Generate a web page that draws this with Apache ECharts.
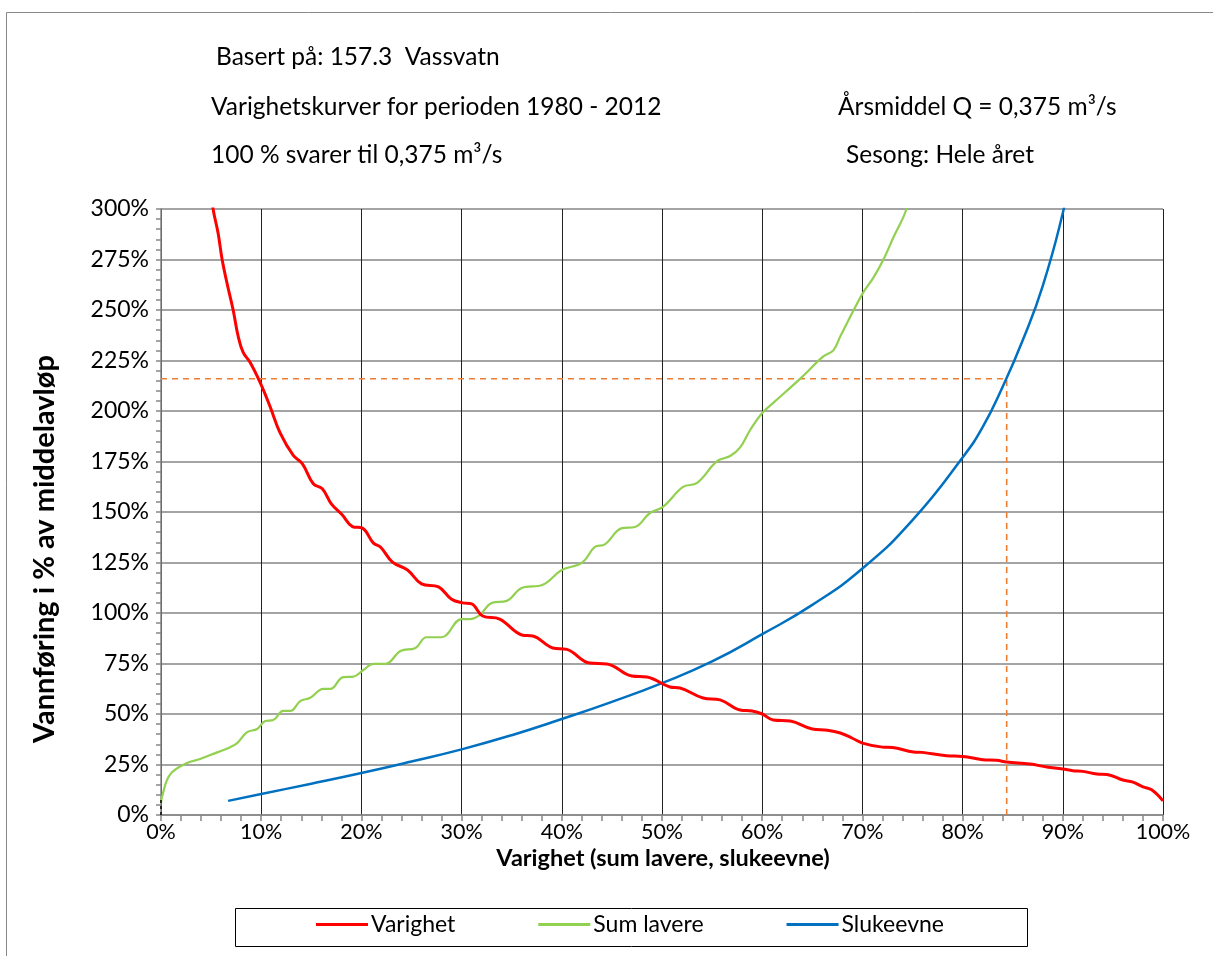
<!DOCTYPE html>
<html><head><meta charset="utf-8">
<script src="https://cdn.jsdelivr.net/npm/echarts@6/dist/echarts.min.js"></script>
<style>html,body{margin:0;padding:0;background:#fff}#c{width:1213px;height:956px}</style>
</head><body><div id="c"></div>
<script>
const FONT = 'Lato';
const xTicks = [0,10,20,30,40,50,60,70,80,90,100];
const yTicks = [0,25,50,75,100,125,150,175,200,225,250,275,300];

const varighet = [[5.0,310],[5.2,300],[5.7,288],[6.1,275],[6.6,263],[7.2,250],[7.7,237],[8.2,229],[8.9,224],[9.9,214],[10.9,202],[11.9,189],[13.2,178],[14.1,174],[15.2,164],[16.1,161.5],[17.0,154],[18.1,148.5],[19.1,142.8],[20.1,142],[21.2,134.6],[21.9,132.7],[23.1,125.2],[24.6,121.3],[26.0,114.4],[27.7,112.9],[29.0,106.8],[30.1,105],[31.0,104.5],[32.1,98.5],[33.8,97],[36.1,89],[37.1,88.6],[39.1,82.7],[40.5,82],[42.8,75.2],[44.5,74.8],[47.0,68.8],[48.5,68.3],[50.8,63.4],[51.8,62.9],[54.1,57.9],[55.8,57],[57.8,52],[59.0,51.5],[60.0,50],[61.1,47],[62.8,46.5],[65.0,42.6],[66.5,42],[67.8,40.6],[69.0,38],[70.0,35.6],[72.0,33.6],[73.0,33.4],[75.1,31.2],[76.0,31],[78.4,29.3],[80.0,29],[82.0,27.4],[83.4,27.1],[84.4,26.2],[86.7,25.2],[88.4,23.8],[90.0,22.8],[91.0,21.9],[92.0,21.6],[93.4,20.3],[94.4,20.1],[96.0,17.3],[97.0,16.3],[98.0,13.9],[98.9,12.4],[100,7]];

const sumLavere = [[0,6],[0.1,9],[0.9,20],[2.6,25.7],[3.9,27.7],[5.6,31],[6.9,33.6],[7.6,35.6],[8.6,41],[9.6,42.6],[10.4,46.5],[11.2,47],[12.2,51.5],[12.9,51.5],[13.9,56.4],[14.9,58],[16.2,62.4],[16.9,62.4],[18.2,68.3],[19.2,68.5],[20.2,71.8],[21.2,74.8],[22.4,74.8],[23.9,81.2],[25.4,82.7],[26.5,88],[28.0,88],[30.0,97],[30.8,97],[31.8,99],[33.0,105],[34.5,106],[36.0,112.4],[38.1,114],[40.0,121.3],[42.0,124.8],[43.3,132.7],[44.3,134],[46.0,142],[47.3,142.6],[48.8,149.5],[50.1,152.5],[52.1,162.4],[53.5,164.4],[55.5,175.2],[56.8,177.7],[57.8,182],[58.8,190.6],[60.0,199],[61.1,204],[63.8,216],[66.1,227],[67.1,230],[67.8,237],[70.0,258],[71.1,266],[72.1,275],[73.1,286],[74.4,300],[74.7,310]];

const slukeevne = [[6.7,7],[10,10.4],[15,15.5],[20,20.8],[25,26.5],[30,32.5],[35,39.5],[40,47.5],[45,56],[50,65.3],[55,76],[60,89.5],[65,104],[70,122],[75,146],[80,177],[82,192],[84,212],[86,235],[88,262],[90,298],[90.4,310]];

const refX = [0, 84.4, 84.4];
const refY = [216, 216, 0];
const startMarkX = [0, 0];
const startMarkY = [0, 8];

const chart = echarts.init(document.getElementById('c'), null, {renderer:'canvas'});
const TS = 24.5;
const txt = (x, cy, s) => ({type:'text', x:x, y:cy, style:{text:s, font:TS + 'px ' + FONT, fill:'#000', verticalAlign:'middle'}});

chart.setOption({
  animation:false,
  backgroundColor:'#fff',
  grid:{left:161, right:50, top:209, bottom:141, containLabel:false},
  xAxis:{type:'value', min:0, max:100, interval:10,
    axisLine:{show:true, lineStyle:{color:'#868686', width:1.5}},
    axisTick:{show:true, length:6, lineStyle:{color:'#868686', width:1.5}},
    minorTick:{show:true, splitNumber:5, length:6, lineStyle:{color:'#868686', width:1.5}},
    splitLine:{show:true, lineStyle:{color:'#222', width:1}},
    axisLabel:{formatter:v=>v+'%', fontFamily:FONT, fontSize:21.5, color:'#000', margin:6}},
  yAxis:{type:'value', min:0, max:300, interval:25,
    axisLine:{show:true, lineStyle:{color:'#868686', width:1.5}},
    axisTick:{show:true, length:5, lineStyle:{color:'#868686', width:1.5}},
    minorTick:{show:true, splitNumber:5, length:5, lineStyle:{color:'#868686', width:1.5}},
    splitLine:{show:true, lineStyle:{color:'#868686', width:1.5}},
    axisLabel:{formatter:v=>v+'%', fontFamily:FONT, fontSize:23, color:'#000', margin:12}},
  legend:{left:316, top:913, padding:0, itemGap:83, itemWidth:52, itemHeight:3, icon:'rect',
    textStyle:{fontFamily:FONT, fontSize:23, color:'#000', padding:[0,0,0,-2]},
    data:['Varighet','Sum lavere','Slukeevne']},
  series:[
    {name:'Varighet', type:'line', data:varighet, smooth:0.4, showSymbol:false, symbol:'none',
      lineStyle:{color:'#FF0000', width:3}, itemStyle:{color:'#FF0000'}, z:4},
    {name:'Sum lavere', type:'line', data:sumLavere, smooth:0.4, showSymbol:false, symbol:'none',
      lineStyle:{color:'#92D050', width:2.2}, itemStyle:{color:'#92D050'}, z:3},
    {name:'Slukeevne', type:'line', data:slukeevne, smooth:0.5, showSymbol:false, symbol:'none',
      lineStyle:{color:'#0070C0', width:2.5}, itemStyle:{color:'#0070C0'}, z:3},
    {name:'ref', type:'line', data:refX.map((x,i)=>[x,refY[i]]), showSymbol:false, symbol:'none',
      lineStyle:{color:'#ED7D31', width:1.6, type:[6,5]}, z:2},
    {name:'start', type:'line', data:startMarkX.map((x,i)=>[x,startMarkY[i]]), showSymbol:false, symbol:'none',
      lineStyle:{color:'#000', width:1.5, type:[3,3]}, z:5}
  ],
  graphic:[
    {type:'rect', left:4, top:10, shape:{width:1220, height:960}, style:{fill:null, stroke:'#888', lineWidth:1}, z:-1, silent:true},
    {type:'rect', left:233, top:906, shape:{width:792, height:38}, style:{fill:null, stroke:'#000', lineWidth:1}, silent:true},
    txt(216, 57, 'Basert på: 157.3  Vassvatn'),
    txt(211, 107, 'Varighetskurver for perioden 1980 - 2012'),
    txt(211, 155, '100 % svarer til 0,375 m³/s'),
    txt(838, 107, 'Årsmiddel Q = 0,375 m³/s'),
    txt(846, 155, 'Sesong: Hele året'),
    {type:'text', x:663, y:858, style:{text:'Varighet (sum lavere, slukeevne)', font:'bold 23.5px ' + FONT, fill:'#000', align:'center', verticalAlign:'middle'}},
    {type:'text', x:45, y:549, rotation:Math.PI/2, style:{text:'Vannføring i % av middelavløp', font:'bold 29px ' + FONT, fill:'#000', align:'center', verticalAlign:'middle'}}
  ]
});
</script></body></html>
